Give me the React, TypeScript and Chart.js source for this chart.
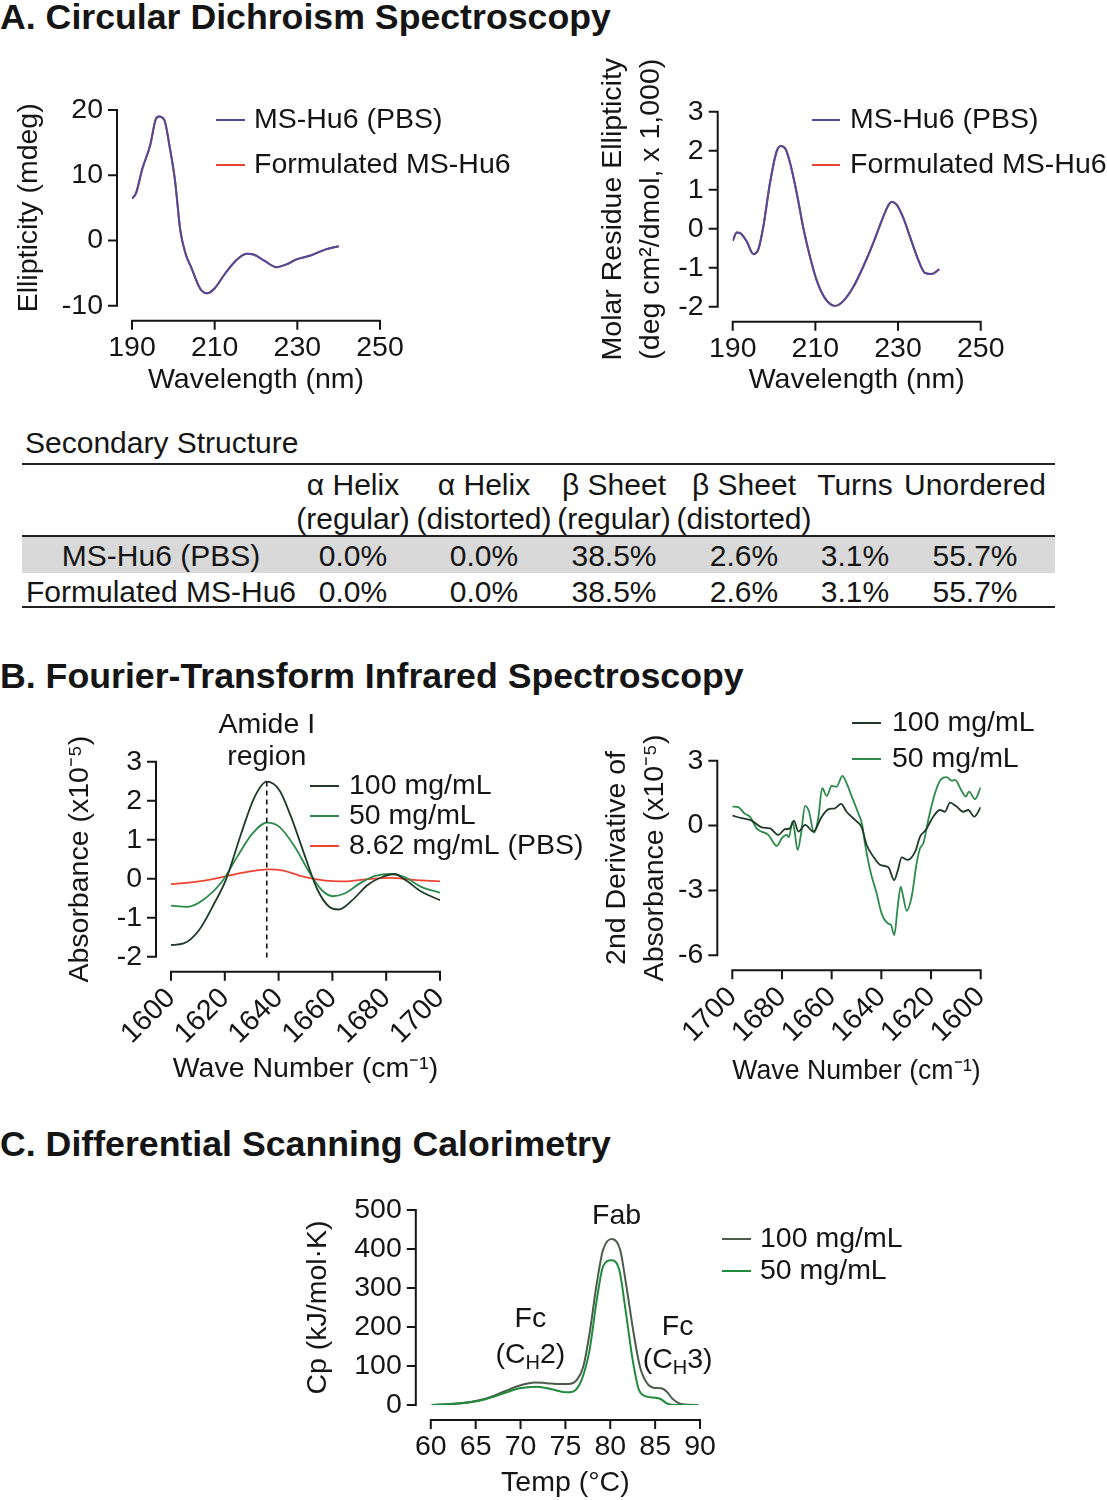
import React, { useEffect, useRef } from "react";
import { Chart, registerables } from "chart.js";

Chart.register(...registerables);

const FONT = "'Liberation Sans', Arial, Helvetica, sans-serif";
const INK = "#151515";

// ---------------- A. Circular dichroism ----------------
const cdWavelengthLeft = [190, 191, 192.5, 194.4, 195.7, 196.5, 197.8, 199.1, 200.4, 201.7, 203, 204.3, 206.5, 208.2, 209.9, 212.5, 215.1, 217.7, 219.4, 222, 225, 227.2, 229.8, 233.2, 236.7, 240];
const cdEllipticityPBS = [6.4, 7.3, 11.0, 14.6, 18.5, 19.0, 18.5, 14.4, 9.2, 1.5, -2.1, -4.1, -7.4, -8.1, -7.4, -5.1, -3.1, -2.05, -2.15, -3.1, -4.1, -3.7, -2.9, -2.3, -1.4, -0.9];
const cdEllipticityFormulated = [6.4, 7.3, 11.0, 14.6, 18.5, 19.0, 18.5, 14.4, 9.2, 1.5, -2.1, -4.1, -7.4, -8.1, -7.4, -5.1, -3.1, -2.05, -2.15, -3.1, -4.1, -3.7, -2.9, -2.3, -1.4, -0.9];

const cdWavelengthRight = [190, 191.0, 191.9, 193.4, 195.0, 196.2, 197.4, 199.0, 200.6, 201.6, 202.7, 203.9, 205.5, 207.1, 208.7, 210.3, 212.3, 214.8, 216.8, 219.2, 221.6, 224.0, 226.1, 227.7, 228.5, 229.7, 231.3, 232.9, 234.9, 236.5, 238.1, 240];
const cdMolarPBS = [-0.31, -0.10, -0.12, -0.33, -0.65, -0.53, 0.05, 1.16, 1.97, 2.12, 2.06, 1.68, 0.91, 0.01, -0.72, -1.32, -1.78, -1.98, -1.85, -1.49, -0.97, -0.37, 0.22, 0.61, 0.69, 0.61, 0.27, -0.21, -0.80, -1.13, -1.16, -1.04];
const cdMolarFormulated = [-0.31, -0.10, -0.12, -0.33, -0.65, -0.53, 0.05, 1.16, 1.97, 2.12, 2.06, 1.68, 0.91, 0.01, -0.72, -1.32, -1.78, -1.98, -1.85, -1.49, -0.97, -0.37, 0.22, 0.61, 0.69, 0.61, 0.27, -0.21, -0.80, -1.13, -1.16, -1.04];

const cdXTicks = [190, 210, 230, 250];
const cdLeftYTicks = [-10, 0, 10, 20];
const cdRightYTicks = [-2, -1, 0, 1, 2, 3];

// Secondary structure table
const ssHeaderTop = ["α Helix", "α Helix", "β Sheet", "β Sheet", "Turns", "Unordered"];
const ssHeaderBottom = ["(regular)", "(distorted)", "(regular)", "(distorted)", "", ""];
const ssRowLabels = ["MS-Hu6 (PBS)", "Formulated MS-Hu6"];
const ssValuesPBS = ["0.0%", "0.0%", "38.5%", "2.6%", "3.1%", "55.7%"];
const ssValuesFormulated = ["0.0%", "0.0%", "38.5%", "2.6%", "3.1%", "55.7%"];

// ---------------- B. FTIR ----------------
const ftirWave100 = [1600, 1604.7, 1610.4, 1616.1, 1620.4, 1626.1, 1631.1, 1635.6, 1640.3, 1644.6, 1650.3, 1654.5, 1658.8, 1662.4, 1667.4, 1673.1, 1678.8, 1683.0, 1687.3, 1693.0, 1700];
const ftirAbs100 = [-1.70, -1.66, -1.32, -0.63, -0.03, 1.16, 2.10, 2.49, 2.27, 1.59, 0.48, -0.29, -0.72, -0.79, -0.55, -0.16, 0.05, 0.12, -0.04, -0.33, -0.55];
const ftirWave50 = [1600, 1606.1, 1611.8, 1618.9, 1624.6, 1630.3, 1635.6, 1640.3, 1646.0, 1651.7, 1656.0, 1660.2, 1664.5, 1670.2, 1675.9, 1681.6, 1686.6, 1693.0, 1700];
const ftirAbs50 = [-0.69, -0.72, -0.55, -0.08, 0.56, 1.16, 1.44, 1.33, 0.82, 0.13, -0.29, -0.45, -0.38, -0.12, 0.07, 0.12, 0.05, -0.21, -0.36];
const ftirWavePBS = [1600, 1610.4, 1620.4, 1628.9, 1636.0, 1641.7, 1648.8, 1657.4, 1664.5, 1673.1, 1681.6, 1690.1, 1700];
const ftirAbsPBS = [-0.14, -0.07, 0.06, 0.18, 0.24, 0.21, 0.06, -0.05, -0.07, -0.01, 0.02, -0.03, -0.07];
const amidePeakWave = 1635.6;
const amideGuideTop = 2.49;
const amideGuideBottom = -2.05;

const ftirD2Wave100 = [1700, 1696.2, 1692.2, 1688.2, 1684.8, 1681.5, 1678.8, 1676.8, 1675.2, 1673.4, 1670.7, 1667.4, 1664.0, 1661.4, 1658.7, 1656.2, 1654.0, 1650.6, 1647.9, 1645.9, 1643.2, 1640.5, 1637.2, 1634.8, 1633.4, 1631.8, 1629.4, 1626.4, 1624.4, 1622.1, 1619.1, 1616.4, 1614.4, 1612.4, 1609.7, 1607.0, 1605.0, 1602.6, 1600];
const ftirD2Val100 = [0.46, 0.34, 0.23, -0.08, -0.13, -0.43, -0.17, -0.13, 0.23, -0.28, 0.03, -0.28, 0.41, 0.75, 0.80, 1.00, 0.64, 0.26, -0.08, -0.90, -1.44, -1.82, -1.93, -2.52, -2.09, -1.47, -1.59, -1.21, -0.51, -0.20, 0.41, 0.72, 0.64, 1.06, 0.88, 0.64, 0.72, 0.41, 0.85];
const ftirD2Wave50 = [1700, 1697.6, 1694.9, 1692.9, 1690.2, 1688.2, 1685.5, 1682.1, 1680.1, 1678.1, 1677.2, 1675.8, 1675.0, 1673.7, 1672.3, 1670.7, 1669.1, 1667.1, 1665.4, 1663.8, 1662.0, 1660.0, 1658.0, 1655.7, 1654.0, 1651.9, 1649.3, 1647.7, 1646.6, 1644.2, 1641.9, 1639.9, 1637.4, 1636.1, 1634.8, 1633.4, 1632.2, 1631.2, 1629.8, 1627.8, 1625.8, 1624.4, 1623.1, 1621.1, 1618.4, 1616.0, 1613.7, 1611.7, 1610.3, 1607.9, 1606.0, 1604.7, 1602.3, 1600];
const ftirD2Val50 = [0.88, 0.85, 0.54, 0.41, -0.13, -0.28, -0.43, -0.94, -0.59, -0.43, -0.54, 0.18, -0.20, -1.13, -0.36, 0.91, 0.64, -0.33, 0.34, 1.73, 1.37, 1.83, 1.80, 2.30, 1.96, 1.34, 0.57, 0.03, -0.82, -2.21, -3.13, -4.06, -4.52, -4.60, -5.06, -3.75, -2.83, -3.29, -3.94, -3.29, -1.75, -1.05, -0.82, 0.26, 1.50, 2.14, 2.24, 2.08, 2.11, 1.65, 1.34, 1.57, 1.22, 1.77];

const ftirXTicks = [1600, 1620, 1640, 1660, 1680, 1700];
const ftirAbsYTicks = [-2, -1, 0, 1, 2, 3];
const ftirD2YTicks = [-6, -3, 0, 3];

// ---------------- C. DSC ----------------
const dscTemp100 = [60.1, 62.5, 64.4, 66.2, 68.1, 69.9, 71.6, 72.9, 74.4, 75.3, 76.3, 77.0, 77.7, 78.5, 79.2, 80.2, 81.1, 81.8, 82.6, 83.3, 84.1, 84.8, 85.7, 86.3, 87.0, 88.0, 89.8];
const dscCp100 = [0, 2.6, 7.7, 17, 34, 50, 58, 56, 53.6, 53.6, 65, 99, 184.6, 312.8, 398, 425.6, 398, 304, 184.6, 99, 55.6, 44.4, 42.7, 34, 14.5, 1.7, 0];
const dscTemp50 = [60.1, 64.4, 66.2, 68.1, 69.9, 71.8, 73.6, 75.1, 75.8, 76.8, 77.7, 78.5, 79.2, 80.1, 81.0, 81.7, 82.5, 83.2, 84.1, 85.0, 85.6, 86.3, 87.4, 89.8];
const dscCp50 = [0, 6.8, 15.4, 29.9, 42.7, 47, 40, 32.5, 34, 64, 141.9, 270, 355.5, 371, 347, 244, 115, 38.5, 21.4, 18.8, 15.4, 4.3, 0, 0];
const dscXTicks = [60, 65, 70, 75, 80, 85, 90];
const dscYTicks = [0, 100, 200, 300, 400, 500];

// ---------------- colours & layout constants ----------------
const CD_BLUE = "#4b4c9c";
const CD_RED = "#e8432f";
const FTIR_DARK = "#1f3b27";
const FTIR_GREEN = "#2b8a4c";
const FTIR_RED = "#ee4433";
const DSC_DARK = "#4b5d4a";
const DSC_GREEN = "#1f8b3b";

const FS = 28.5;
const AXIS_GAP = 15;
const TICK = 8;
const Y_TITLE_LH = 1.35;
const X_TITLE_LH = 1.2;

type Part = { t: string; sub?: boolean };
type Note = { x: number; y: number; parts: Part[] };
type Series = { label: string; color: string; x: number[]; y: number[]; width?: number };
type LegendSpec = { x1: number; x2: number; textX: number; rows: { label: string; color: string; y: number }[] };
type PanelSpec = {
  rect: { x: number; y: number; w: number; h: number };
  area: { l: number; t: number; r: number; b: number };
  x: { min: number; max: number; ticks: number[]; reverse?: boolean; rotation?: number };
  y: { min: number; max: number; ticks: number[] };
  xTitle: string;
  xTitleY: number;
  yTitle: string | string[];
  yTitleX: number;
  series: Series[];
  legend: LegendSpec;
  notes?: Note[];
  guide?: { x: number; y1: number; y2: number };
};

const panels: PanelSpec[] = [
  {
    rect: { x: 0, y: 50, w: 560, h: 350 },
    area: { l: 132, t: 110, r: 380, b: 305.7 },
    x: { min: 190, max: 250, ticks: cdXTicks },
    y: { min: -10, max: 20, ticks: cdLeftYTicks },
    xTitle: "Wavelength (nm)",
    xTitleY: 380,
    yTitle: "Ellipticity (mdeg)",
    yTitleX: 29,
    series: [
      { label: "MS-Hu6 (PBS)", color: CD_BLUE, x: cdWavelengthLeft, y: cdEllipticityPBS },
      { label: "Formulated MS-Hu6", color: CD_RED, x: cdWavelengthLeft, y: cdEllipticityFormulated },
    ],
    legend: {
      x1: 216, x2: 245, textX: 254,
      rows: [
        { label: "MS-Hu6 (PBS)", color: CD_BLUE, y: 120 },
        { label: "Formulated MS-Hu6", color: CD_RED, y: 165 },
      ],
    },
  },
  {
    rect: { x: 560, y: 40, w: 547, h: 360 },
    area: { l: 732.7, t: 111.7, r: 980.7, b: 306.7 },
    x: { min: 190, max: 250, ticks: cdXTicks },
    y: { min: -2, max: 3, ticks: cdRightYTicks },
    xTitle: "Wavelength (nm)",
    xTitleY: 380,
    yTitle: ["Molar Residue Ellipticity", "(deg cm²/dmol, x 1,000)"],
    yTitleX: 613,
    series: [
      { label: "MS-Hu6 (PBS)", color: CD_BLUE, x: cdWavelengthRight, y: cdMolarPBS },
      { label: "Formulated MS-Hu6", color: CD_RED, x: cdWavelengthRight, y: cdMolarFormulated },
    ],
    legend: {
      x1: 812, x2: 840, textX: 850,
      rows: [
        { label: "MS-Hu6 (PBS)", color: CD_BLUE, y: 120 },
        { label: "Formulated MS-Hu6", color: CD_RED, y: 165 },
      ],
    },
  },
  {
    rect: { x: 0, y: 690, w: 600, h: 400 },
    area: { l: 171, t: 761.7, r: 440, b: 956.7 },
    x: { min: 1600, max: 1700, ticks: ftirXTicks, rotation: 45 },
    y: { min: -2, max: 3, ticks: ftirAbsYTicks },
    xTitle: "Wave Number (cm⁻¹)",
    xTitleY: 1069,
    yTitle: "Absorbance (x10⁻⁵)",
    yTitleX: 80,
    series: [
      { label: "100 mg/mL", color: FTIR_DARK, x: ftirWave100, y: ftirAbs100, width: 1.8 },
      { label: "50 mg/mL", color: FTIR_GREEN, x: ftirWave50, y: ftirAbs50, width: 1.8 },
      { label: "8.62 mg/mL (PBS)", color: FTIR_RED, x: ftirWavePBS, y: ftirAbsPBS, width: 1.8 },
    ],
    legend: {
      x1: 310, x2: 339, textX: 349,
      rows: [
        { label: "100 mg/mL", color: FTIR_DARK, y: 786 },
        { label: "50 mg/mL", color: FTIR_GREEN, y: 816 },
        { label: "8.62 mg/mL (PBS)", color: FTIR_RED, y: 846 },
      ],
    },
    notes: [
      { x: amidePeakWave, y: 3.94, parts: [{ t: "Amide I" }] },
      { x: amidePeakWave, y: 3.12, parts: [{ t: "region" }] },
    ],
    guide: { x: amidePeakWave, y1: amideGuideTop, y2: amideGuideBottom },
  },
  {
    rect: { x: 590, y: 690, w: 517, h: 400 },
    area: { l: 732.3, t: 760.7, r: 980.7, b: 955.3 },
    x: { min: 1600, max: 1700, ticks: ftirXTicks, rotation: 45, reverse: true },
    y: { min: -6, max: 3, ticks: ftirD2YTicks },
    xTitle: "Wave Number (cm⁻¹)",
    xTitleY: 1071,
    yTitle: ["2nd Derivative of", "Absorbance (x10⁻⁵)"],
    yTitleX: 617,
    series: [
      { label: "100 mg/mL", color: FTIR_DARK, x: ftirD2Wave100, y: ftirD2Val100, width: 1.8 },
      { label: "50 mg/mL", color: FTIR_GREEN, x: ftirD2Wave50, y: ftirD2Val50, width: 1.8 },
    ],
    legend: {
      x1: 852, x2: 881, textX: 892,
      rows: [
        { label: "100 mg/mL", color: FTIR_DARK, y: 723 },
        { label: "50 mg/mL", color: FTIR_GREEN, y: 759 },
      ],
    },
  },
  {
    rect: { x: 280, y: 1150, w: 640, h: 350 },
    area: { l: 430.8, t: 1210, r: 700, b: 1405 },
    x: { min: 60, max: 90, ticks: dscXTicks },
    y: { min: 0, max: 500, ticks: dscYTicks },
    xTitle: "Temp (°C)",
    xTitleY: 1483,
    yTitle: "Cp (kJ/mol·K)",
    yTitleX: 318,
    series: [
      { label: "50 mg/mL", color: DSC_GREEN, x: dscTemp50, y: dscCp50 },
      { label: "100 mg/mL", color: DSC_DARK, x: dscTemp100, y: dscCp100 },
    ],
    legend: {
      x1: 722, x2: 751, textX: 760,
      rows: [
        { label: "100 mg/mL", color: DSC_DARK, y: 1239 },
        { label: "50 mg/mL", color: DSC_GREEN, y: 1271 },
      ],
    },
    notes: [
      { x: 80.7, y: 484, parts: [{ t: "Fab" }] },
      { x: 71.1, y: 221, parts: [{ t: "Fc" }] },
      { x: 71.1, y: 127, parts: [{ t: "(C" }, { t: "H", sub: true }, { t: "2)" }] },
      { x: 87.5, y: 200, parts: [{ t: "Fc" }] },
      { x: 87.5, y: 115, parts: [{ t: "(C" }, { t: "H", sub: true }, { t: "3)" }] },
    ],
  },
];

function panelPlugins(spec: PanelSpec) {
  const ox = spec.rect.x;
  const oy = spec.rect.y;
  return [
    {
      id: "prismDecor",
      afterDraw(chart: any) {
        const { ctx, chartArea } = chart;
        const xs = chart.scales.x;
        const ys = chart.scales.y;
        ctx.save();
        // axes (offset Prism style)
        ctx.strokeStyle = INK;
        ctx.lineWidth = 2;
        ctx.lineCap = "square";
        const ax = chartArea.left - AXIS_GAP;
        const ay = chartArea.bottom + AXIS_GAP;
        const yTop = ys.getPixelForValue(spec.y.max);
        const yBot = ys.getPixelForValue(spec.y.min);
        ctx.beginPath();
        ctx.moveTo(ax, yTop);
        ctx.lineTo(ax, yBot);
        spec.y.ticks.forEach((v) => {
          const p = ys.getPixelForValue(v);
          ctx.moveTo(ax - TICK, p);
          ctx.lineTo(ax, p);
        });
        const xa = xs.getPixelForValue(spec.x.min);
        const xb = xs.getPixelForValue(spec.x.max);
        ctx.moveTo(Math.min(xa, xb), ay);
        ctx.lineTo(Math.max(xa, xb), ay);
        spec.x.ticks.forEach((v) => {
          const p = xs.getPixelForValue(v);
          ctx.moveTo(p, ay);
          ctx.lineTo(p, ay + TICK);
        });
        ctx.stroke();

        // dashed guide
        if (spec.guide) {
          const g = spec.guide;
          ctx.lineCap = "butt";
          ctx.lineWidth = 1.6;
          ctx.setLineDash([5, 4]);
          ctx.beginPath();
          const gx = xs.getPixelForValue(g.x);
          ctx.moveTo(gx, ys.getPixelForValue(g.y1));
          ctx.lineTo(gx, ys.getPixelForValue(g.y2));
          ctx.stroke();
          ctx.setLineDash([]);
        }

        // legend
        ctx.lineCap = "butt";
        ctx.font = `${FS}px ${FONT}`;
        ctx.textBaseline = "middle";
        ctx.textAlign = "left";
        ctx.fillStyle = INK;
        spec.legend.rows.forEach((r) => {
          ctx.strokeStyle = r.color;
          ctx.lineWidth = 2;
          ctx.beginPath();
          ctx.moveTo(spec.legend.x1 - ox, r.y - oy);
          ctx.lineTo(spec.legend.x2 - ox, r.y - oy);
          ctx.stroke();
          ctx.fillText(r.label, spec.legend.textX - ox, r.y - oy);
        });

        // notes
        (spec.notes || []).forEach((n) => {
          const cx = xs.getPixelForValue(n.x);
          const cy = ys.getPixelForValue(n.y);
          const widths = n.parts.map((p) => {
            ctx.font = `${p.sub ? 20 : FS}px ${FONT}`;
            return ctx.measureText(p.t).width;
          });
          const total = widths.reduce((a, b) => a + b, 0);
          let x = cx - total / 2;
          n.parts.forEach((p, i) => {
            ctx.font = `${p.sub ? 20 : FS}px ${FONT}`;
            ctx.fillText(p.t, x, cy + (p.sub ? 8 : 0));
            x += widths[i];
          });
        });
        ctx.restore();
      },
    },
  ];
}

function buildConfig(spec: PanelSpec): any {
  const padT = spec.area.t - spec.rect.y;
  const padR = spec.rect.x + spec.rect.w - spec.area.r;
  const yWidth = spec.area.l - spec.rect.x;
  const xHeight = spec.rect.y + spec.rect.h - spec.area.b;
  const yTitlePad = spec.yTitleX - spec.rect.x - (FS * Y_TITLE_LH) / 2;
  const xTitlePad = spec.rect.y + spec.rect.h - spec.xTitleY - (FS * X_TITLE_LH) / 2;
  const rot = spec.x.rotation || 0;
  return {
    type: "line",
    data: {
      datasets: spec.series.map((s) => ({
        label: s.label,
        data: s.x.map((x, i) => ({ x, y: s.y[i] })),
        borderColor: s.color,
        backgroundColor: s.color,
        borderWidth: s.width ?? 2,
        pointRadius: 0,
        fill: false,
        cubicInterpolationMode: "monotone",
      })),
    },
    options: {
      responsive: false,
      animation: false,
      devicePixelRatio: 1,
      events: [],
      layout: { padding: { left: 0, top: padT, right: padR, bottom: 0 } },
      scales: {
        x: {
          type: "linear",
          min: spec.x.min,
          max: spec.x.max,
          reverse: !!spec.x.reverse,
          grid: { display: false, drawTicks: false },
          border: { display: false },
          ticks: {
            autoSkip: false,
            minRotation: rot,
            maxRotation: rot,
            padding: 25,
            color: INK,
            font: { family: FONT, size: FS },
            callback: (v: any) => String(v),
          },
          afterBuildTicks: (sc: any) => {
            sc.ticks = spec.x.ticks.map((v) => ({ value: v }));
          },
          afterFit: (sc: any) => {
            sc.height = xHeight;
          },
          title: {
            display: true,
            text: spec.xTitle,
            color: INK,
            font: { family: FONT, size: FS, lineHeight: X_TITLE_LH },
            padding: { top: 0, bottom: xTitlePad },
          },
        },
        y: {
          type: "linear",
          min: spec.y.min,
          max: spec.y.max,
          grid: { display: false, drawTicks: false },
          border: { display: false },
          ticks: {
            autoSkip: false,
            padding: 29,
            color: INK,
            font: { family: FONT, size: FS },
            callback: (v: any) => String(v),
          },
          afterBuildTicks: (sc: any) => {
            sc.ticks = spec.y.ticks.map((v) => ({ value: v }));
          },
          afterFit: (sc: any) => {
            sc.width = yWidth;
          },
          title: {
            display: true,
            text: spec.yTitle,
            color: INK,
            font: { family: FONT, size: FS, lineHeight: Y_TITLE_LH },
            padding: { top: yTitlePad, bottom: 0 },
          },
        },
      },
      plugins: {
        legend: { display: false },
        tooltip: { enabled: false },
      },
    },
    plugins: panelPlugins(spec),
  };
}

function PanelChart({ spec }: { spec: PanelSpec }) {
  const ref = useRef<HTMLCanvasElement>(null);
  useEffect(() => {
    if (!ref.current) return;
    const chart = new Chart(ref.current, buildConfig(spec));
    return () => chart.destroy();
  }, [spec]);
  return (
    <canvas
      ref={ref}
      width={spec.rect.w}
      height={spec.rect.h}
      style={{ position: "absolute", left: spec.rect.x, top: spec.rect.y, width: spec.rect.w, height: spec.rect.h }}
    />
  );
}

function Txt(props: { x: number; cy: number; size?: number; bold?: boolean; center?: boolean; children: React.ReactNode }) {
  const size = props.size ?? 30;
  const lh = Math.round(size * 1.15);
  return (
    <div
      style={{
        position: "absolute",
        left: props.x,
        top: props.cy - lh / 2,
        transform: props.center ? "translateX(-50%)" : undefined,
        whiteSpace: "nowrap",
        fontFamily: FONT,
        fontSize: size,
        lineHeight: `${lh}px`,
        fontWeight: props.bold ? 700 : 400,
        color: INK,
      }}
    >
      {props.children}
    </div>
  );
}

const colCenters = [353, 484, 614, 744, 855, 975];

function Rule({ y, h = 2 }: { y: number; h?: number }) {
  return <div style={{ position: "absolute", left: 22, width: 1033, top: y - h / 2, height: h, background: "#222" }} />;
}

export default function App() {
  return (
    <div style={{ position: "absolute", left: 0, top: 0, width: 1107, height: 1500, background: "#fff", overflow: "hidden" }}>
      <Txt x={0} cy={17} size={35.7} bold>A. Circular Dichroism Spectroscopy</Txt>
      <Txt x={0} cy={676} size={35.7} bold>B. Fourier-Transform Infrared Spectroscopy</Txt>
      <Txt x={0} cy={1144} size={35.7} bold>C. Differential Scanning Calorimetry</Txt>

      {/* Secondary structure table */}
      <Txt x={25} cy={442}>Secondary Structure</Txt>
      <Rule y={464} />
      {ssHeaderTop.map((h, i) => (
        <Txt key={"ht" + i} x={colCenters[i]} cy={484} center>{h}</Txt>
      ))}
      {ssHeaderBottom.map((h, i) =>
        h ? (
          <Txt key={"hb" + i} x={colCenters[i]} cy={518} center>{h}</Txt>
        ) : null
      )}
      <div style={{ position: "absolute", left: 22, width: 1033, top: 536, height: 37, background: "#d9d9d9" }} />
      <Rule y={535.5} />
      <Txt x={161} cy={555} center>{ssRowLabels[0]}</Txt>
      {ssValuesPBS.map((v, i) => (
        <Txt key={"p" + i} x={colCenters[i]} cy={555} center>{v}</Txt>
      ))}
      <Txt x={161} cy={591} center>{ssRowLabels[1]}</Txt>
      {ssValuesFormulated.map((v, i) => (
        <Txt key={"f" + i} x={colCenters[i]} cy={591} center>{v}</Txt>
      ))}
      <Rule y={606.5} />

      {panels.map((p, i) => (
        <PanelChart key={i} spec={p} />
      ))}
    </div>
  );
}
